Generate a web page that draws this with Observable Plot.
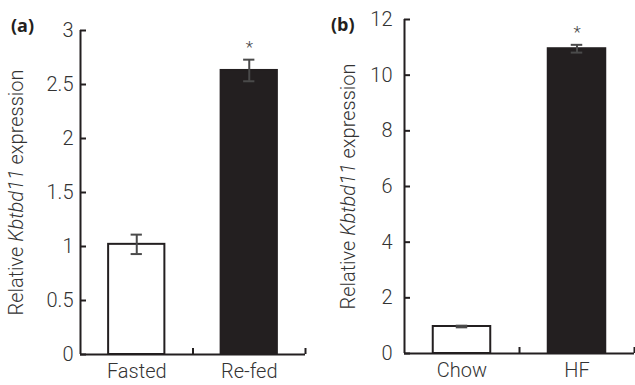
<!DOCTYPE html>
<html><head><meta charset="utf-8">
<script src="https://cdn.jsdelivr.net/npm/d3@7"></script>
<script src="https://cdn.jsdelivr.net/npm/@observablehq/plot@0.6"></script>
<style>
body{margin:0;background:#fff;font-family:Roboto,sans-serif;}
#wrap{position:relative;width:635px;height:385px;overflow:hidden;}
.panel{position:absolute;top:0;}
.tag{position:absolute;font-weight:700;font-size:18px;color:#231f20;line-height:1;font-family:"Open Sans",sans-serif;}
</style></head><body>
<div id="wrap">
<div id="pa" class="panel" style="left:0"></div>
<div id="pb" class="panel" style="left:315px"></div>
<div class="tag" style="left:11px;top:16px">(a)</div>
<div class="tag" style="left:331px;top:15px">(b)</div>
</div>
<script>
// Panel (a)
const groupsA = ["Fasted", "Re-fed"];
const meansA = [1.02, 2.63];
const errorsA = [0.09, 0.10];
const sigA = ["", "*"];
const ticksA = [0, 0.5, 1, 1.5, 2, 2.5, 3];
// Panel (b)
const groupsB = ["Chow", "HF"];
const meansB = [0.97, 10.95];
const errorsB = [0.03, 0.14];
const sigB = ["", "*"];
const ticksB = [0, 2, 4, 6, 8, 10, 12];

const barFills = ["#ffffff", "#231f20"];
const ink = "#231f20";
const yTitle = "Relative Kbtbd11 expression";

function panel({groups, means, errors, sig, ticks, width, marginLeft, marginTop, marginBottom, marginRight, tickPadding, labelOffset}) {
  const rows = groups.map((g, i) => ({g, i, mean: means[i], err: errors[i], sig: sig[i], fill: barFills[i]}));
  const plot = Plot.plot({
    width, height: 385, marginLeft, marginTop, marginBottom, marginRight,
    style: {fontFamily: "Roboto, sans-serif", fontSize: "20px", fontWeight: 300, color: "#333", background: "white"},
    x: {domain: [0, groups.length]},
    y: {domain: [0, ticks[ticks.length - 1]]},
    color: {type: "identity"},
    marks: [
      Plot.rectY(rows, {x1: d => d.i + 0.25, x2: d => d.i + 0.75, y1: 0, y2: "mean", fill: "fill", stroke: ink, strokeWidth: 2}),
      Plot.ruleX(rows, {x: d => d.i + 0.5, y1: d => d.mean - d.err, y2: d => d.mean + d.err, stroke: "#4a4a4a", strokeWidth: 2}),
      Plot.ruleY(rows, {y: d => d.mean + d.err, x1: d => d.i + 0.45, x2: d => d.i + 0.55, stroke: "#4a4a4a", strokeWidth: 2}),
      Plot.ruleY(rows, {y: d => d.mean - d.err, x1: d => d.i + 0.45, x2: d => d.i + 0.55, stroke: "#4a4a4a", strokeWidth: 2}),
      Plot.text(rows.filter(d => d.sig), {x: d => d.i + 0.5, y: d => d.mean + d.err, text: "sig", dy: -7, fontSize: 17, fill: "#444", lineAnchor: "bottom"}),
      Plot.ruleX([0], {stroke: ink, strokeWidth: 2}),
      Plot.ruleY([0], {stroke: ink, strokeWidth: 2}),
      Plot.axisX({ticks: d3.range(1, groups.length + 1), tickSize: 6, dy: -6, fill: "none", stroke: ink, strokeWidth: 2}),
      Plot.axisX({ticks: groups.map((g, i) => i + 0.5), tickSize: 0, tickPadding: 9, tickFormat: t => groups[Math.floor(t)], label: null}),
      Plot.axisY({ticks, tickSize: 6, dx: 6, fill: "none", stroke: ink, strokeWidth: 2}),
      Plot.axisY({ticks, tickSize: 0, tickPadding, tickFormat: d => String(d), label: yTitle, labelAnchor: "center", labelOffset, labelArrow: "none"})
    ]
  });
  plot.querySelectorAll("text").forEach(t => {
    if (t.textContent.includes("Kbtbd11")) {
      t.textContent = "";
      t.setAttribute("font-size", "20");
      const parts = [["Relative ", false], ["Kbtbd11", true], [" expression", false]];
      for (const [s, it] of parts) {
        const ts = document.createElementNS("http://www.w3.org/2000/svg", "tspan");
        ts.textContent = s;
        if (it) ts.setAttribute("font-style", "italic");
        t.appendChild(ts);
      }
    }
  });
  return plot;
}

document.getElementById("pa").appendChild(panel({
  groups: groupsA, means: meansA, errors: errorsA, sig: sigA, ticks: ticksA,
  width: 315, marginLeft: 80, marginTop: 30, marginBottom: 31, marginRight: 10, tickPadding: 7, labelOffset: 72
}));
document.getElementById("pb").appendChild(panel({
  groups: groupsB, means: meansB, errors: errorsB, sig: sigB, ticks: ticksB,
  width: 320, marginLeft: 89, marginTop: 19, marginBottom: 32, marginRight: 1, tickPadding: 12, labelOffset: 64
}));
</script>
</body></html>
